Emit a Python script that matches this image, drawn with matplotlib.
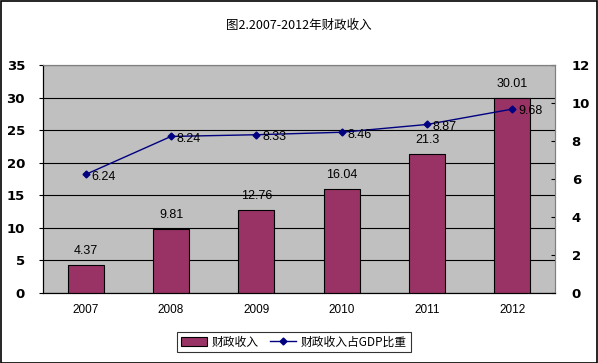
import matplotlib
matplotlib.use("Agg")
import matplotlib.pyplot as plt
from matplotlib.patches import Rectangle

plt.rcParams['font.family'] = ['Liberation Sans', 'Noto Sans CJK SC', 'DejaVu Sans']

years = ['2007', '2008', '2009', '2010', '2011', '2012']
revenue = [4.37, 9.81, 12.76, 16.04, 21.3, 30.01]
share_gdp = [6.24, 8.24, 8.33, 8.46, 8.87, 9.68]
revenue_labels = ['4.37', '9.81', '12.76', '16.04', '21.3', '30.01']
share_labels = ['6.24', '8.24', '8.33', '8.46', '8.87', '9.68']
left_ticks = [0, 5, 10, 15, 20, 25, 30, 35]
right_ticks = [0, 2, 4, 6, 8, 10, 12]

W, H = 598, 363
fig = plt.figure(figsize=(W / 100, H / 100), dpi=100)
fig.patch.set_facecolor('white')
fig.add_artist(Rectangle((0.5 / W, 0.5 / H), 1 - 1.5 / W, 1 - 1.5 / H, transform=fig.transFigure,
                         fill=False, edgecolor='black', linewidth=1.2))

ax = fig.add_axes([43 / W, 1 - 293 / H, (555 - 43) / W, (293 - 65) / H])
ax.set_facecolor('#C0C0C0')
x = list(range(len(years)))
ax.bar(x, revenue, width=0.42, color='#993366', edgecolor='black', linewidth=0.8, zorder=3,
       label='财政收入')
ax.set_xlim(-0.5, len(years) - 0.5)
ax.set_ylim(0, 35)
ax.set_yticks(left_ticks)
ax.set_xticks(x, labels=years, fontsize=8.5)
ax.yaxis.grid(True, color='black', linewidth=0.8, zorder=1)
ax.set_axisbelow(True)
ax.tick_params(axis='x', length=0, pad=8)
ax.tick_params(axis='y', length=3, pad=10, labelsize=9.5)
for s in ax.spines.values():
    s.set_linewidth(0.8)
ax.spines['top'].set_color('#808080')
ax.spines['right'].set_color('#808080')

for xi, v, t in zip(x, revenue, revenue_labels):
    ax.text(xi, v + 1.2, t, ha='center', va='bottom', fontsize=9, zorder=5)

ax2 = ax.twinx()
ax2.plot(x, share_gdp, color='#000080', marker='D', markersize=3.5, linewidth=1, zorder=4,
         label='财政收入占GDP比重')
ax2.set_ylim(0, 12)
ax2.set_yticks(right_ticks)
ax2.tick_params(axis='y', direction='in', length=3, pad=12, labelsize=9.5)
for s in ax2.spines.values():
    s.set_linewidth(0.8)
ax2.spines['top'].set_color('#808080')
ax2.spines['right'].set_color('#808080')
for xi, v, t in zip(x, share_gdp, share_labels):
    ax2.text(xi + 0.07, v - 0.12, t, ha='left', va='center', fontsize=9, zorder=6)

fig.text(0.5, 1 - 25 / H, '图2.2007-2012年财政收入', ha='center', va='center', fontsize=9,
         family=['Noto Sans CJK SC', 'DejaVu Sans'])

h1, l1 = ax.get_legend_handles_labels()
h2, l2 = ax2.get_legend_handles_labels()
leg = fig.legend(h1 + h2, l1 + l2, loc='center', bbox_to_anchor=(294 / W, 1 - 342 / H), ncol=2,
                 frameon=True, fancybox=False, edgecolor='black',
                 prop={'family': ['Noto Sans CJK SC', 'DejaVu Sans'], 'size': 8.5},
                 handlelength=2.2, handletextpad=0.4, columnspacing=1.0, borderpad=0.3)
leg.get_frame().set_linewidth(0.8)

fig.canvas.draw()
for a in (ax, ax2):
    for lab in a.get_yticklabels():
        lab.set_fontweight('bold')
        lab.set_fontfamily('DejaVu Sans')

fig.savefig('out.png', dpi=100, facecolor='white')
